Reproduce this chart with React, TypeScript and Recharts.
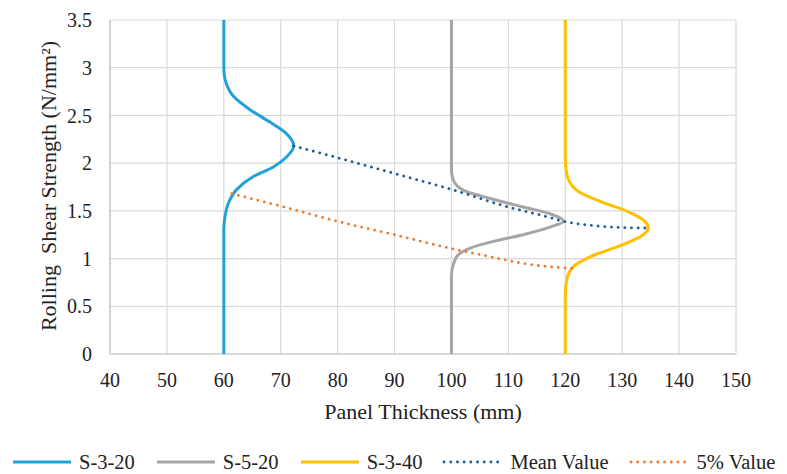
import React from 'react';
import { ScatterChart, Scatter, XAxis, YAxis, CartesianGrid, Legend } from 'recharts';

const FONT = 'Liberation Serif, Tinos, DejaVu Serif, Times New Roman, serif';

const xTicks = [40, 50, 60, 70, 80, 90, 100, 110, 120, 130, 140, 150];
const yTicks = [0, 0.5, 1, 1.5, 2, 2.5, 3, 3.5];

const xTitle = 'Panel Thickness (mm)';
const yTitle = 'Rolling  Shear Strength (N/mm\u00B2)';

// S-3-20 distribution (baseline at 60 mm)
const s320 = [
  { x: 60, y: 0 }, { x: 60, y: 1.3 }, { x: 60.2, y: 1.44 }, { x: 60.8, y: 1.58 },
  { x: 62.2, y: 1.72 }, { x: 65.2, y: 1.86 }, { x: 68.7, y: 1.96 }, { x: 71.1, y: 2.07 },
  { x: 72.3, y: 2.18 }, { x: 71.0, y: 2.31 }, { x: 68.1, y: 2.43 }, { x: 64.6, y: 2.56 },
  { x: 61.7, y: 2.7 }, { x: 60.4, y: 2.84 }, { x: 60.05, y: 2.94 }, { x: 60, y: 3.05 }, { x: 60, y: 3.5 },
];

// S-5-20 distribution (baseline at 100 mm)
const s520 = [
  { x: 100, y: 0 }, { x: 100, y: 0.82 }, { x: 100.4, y: 0.95 }, { x: 101.2, y: 1.04 },
  { x: 103.3, y: 1.11 }, { x: 107.4, y: 1.18 }, { x: 112.6, y: 1.25 }, { x: 117.3, y: 1.33 },
  { x: 119.7, y: 1.39 }, { x: 117.3, y: 1.47 }, { x: 112.6, y: 1.54 }, { x: 106.8, y: 1.63 },
  { x: 102.7, y: 1.7 }, { x: 100.6, y: 1.79 }, { x: 100.1, y: 1.87 }, { x: 100, y: 1.95 }, { x: 100, y: 3.5 },
];

// S-3-40 distribution (baseline at 120 mm)
const s340 = [
  { x: 120, y: 0 }, { x: 120, y: 0.58 }, { x: 120.1, y: 0.71 }, { x: 120.4, y: 0.81 },
  { x: 121.7, y: 0.93 }, { x: 125.2, y: 1.04 }, { x: 129.9, y: 1.14 }, { x: 133.7, y: 1.25 },
  { x: 134.6, y: 1.32 }, { x: 134.0, y: 1.39 }, { x: 131.1, y: 1.49 }, { x: 126.1, y: 1.6 },
  { x: 121.9, y: 1.72 }, { x: 120.25, y: 1.89 }, { x: 120, y: 2.05 }, { x: 120, y: 3.5 },
];

// Mean value trend
const meanValue = [
  { x: 72.3, y: 2.18 }, { x: 81, y: 2.04 }, { x: 91, y: 1.875 }, { x: 100, y: 1.725 },
  { x: 110, y: 1.54 }, { x: 116.7, y: 1.44 }, { x: 119.7, y: 1.39 }, { x: 124.3, y: 1.35 },
  { x: 130, y: 1.325 }, { x: 134.6, y: 1.32 },
];

// 5% value trend
const fivePercent = [
  { x: 61.4, y: 1.68 }, { x: 70, y: 1.55 }, { x: 80, y: 1.39 }, { x: 90, y: 1.25 },
  { x: 100, y: 1.105 }, { x: 106.8, y: 1.02 }, { x: 112.6, y: 0.95 }, { x: 118.5, y: 0.908 },
  { x: 121.2, y: 0.898 },
];

const seriesNames = ['S-3-20', 'S-5-20', 'S-3-40', 'Mean Value', '5% Value'];
const seriesColors = ['#22A0DB', '#A5A5A5', '#FFC000', '#1B5E99', '#ED7D31'];
const seriesDotted = [false, false, false, true, true];

const NoDot = () => <g />;

const XTitle = (props: any) => {
  const vb = props.viewBox || { x: 0, y: 0, width: 0, height: 0 };
  return (
    <text
      x={vb.x + vb.width / 2}
      y={vb.y + 65}
      textAnchor="middle"
      style={{ fontFamily: FONT, fontSize: 22 }}
      fill="#222"
    >
      {xTitle}
    </text>
  );
};

const YTitle = (props: any) => {
  const vb = props.viewBox || { x: 0, y: 0, width: 0, height: 0 };
  const x = 48;
  const cy = vb.y + vb.height / 2 - 1;
  return (
    <text
      x={x}
      y={cy}
      transform={`rotate(-90, ${x}, ${cy})`}
      textAnchor="middle"
      dominantBaseline="central"
      fill="#222"
      style={{ whiteSpace: 'pre', fontFamily: FONT, fontSize: 22 }}
    >
      {yTitle}
    </text>
  );
};

const renderLegend = () => (
  <div
    style={{
      display: 'flex',
      alignItems: 'center',
      height: 30,
      paddingTop: 6,
      paddingLeft: 11,
      boxSizing: 'border-box',
      fontFamily: FONT,
      fontSize: 20.5,
      color: '#222',
      whiteSpace: 'nowrap',
    }}
  >
    {seriesNames.map((name, i) => (
      <div key={name} style={{ display: 'flex', alignItems: 'center', marginRight: 20 }}>
        <svg width={62} height={8} style={{ display: 'block' }}>
          <line
            x1={2}
            y1={4}
            x2={60}
            y2={4}
            stroke={seriesColors[i]}
            strokeWidth={seriesDotted[i] ? 2.8 : 3}
            strokeDasharray={seriesDotted[i] ? '0.1 6.6' : undefined}
            strokeLinecap={seriesDotted[i] ? 'round' : 'butt'}
          />
        </svg>
        <span style={{ marginLeft: 6 }}>{name}</span>
      </div>
    ))}
  </div>
);

const seriesData = [s320, s520, s340, meanValue, fivePercent];
const seriesCurve: any[] = ['monotoneY', 'monotoneY', 'monotoneY', 'monotoneX', 'monotoneX'];

const tickStyle = { fontFamily: FONT, fontSize: 20, fill: '#222' };

export default function App() {
  return (
    <div style={{ position: 'absolute', left: 0, top: 0, width: 787, height: 474, background: '#fff', fontFamily: FONT }}>
      <ScatterChart width={787} height={474} margin={{ top: 20, right: 51, bottom: 0, left: 0 }} style={{ fontFamily: FONT }}>
        <CartesianGrid stroke="#D9D9D9" strokeWidth={1.2} />
        <XAxis
          type="number"
          dataKey="x"
          domain={[40, 150]}
          ticks={xTicks}
          interval={0}
          allowDataOverflow
          tickLine={false}
          tickSize={0}
          tickMargin={19}
          axisLine={{ stroke: '#C6C6C6', strokeWidth: 1.2 }}
          height={90}
          tick={tickStyle}
          label={<XTitle />}
        />
        <YAxis
          type="number"
          dataKey="y"
          domain={[0, 3.5]}
          ticks={yTicks}
          interval={0}
          allowDataOverflow
          tickLine={false}
          tickSize={0}
          tickMargin={18}
          axisLine={{ stroke: '#C6C6C6', strokeWidth: 1.2 }}
          width={110}
          tick={tickStyle}
          label={<YTitle />}
        />
        {seriesData.map((d, i) => (
          <Scatter
            key={seriesNames[i]}
            name={seriesNames[i]}
            data={d}
            fill={seriesColors[i]}
            shape={NoDot}
            line={{
              stroke: seriesColors[i],
              strokeWidth: seriesDotted[i] ? 2.8 : 3,
              strokeDasharray: seriesDotted[i] ? '0.1 6.6' : undefined,
              strokeLinecap: seriesDotted[i] ? 'round' : 'butt',
              fill: 'none',
            }}
            lineType="joint"
            lineJointType={seriesCurve[i]}
            isAnimationActive={false}
          />
        ))}
        <Legend
          verticalAlign="bottom"
          align="left"
          content={renderLegend}
          wrapperStyle={{ left: 0, width: 787 }}
        />
      </ScatterChart>
    </div>
  );
}
